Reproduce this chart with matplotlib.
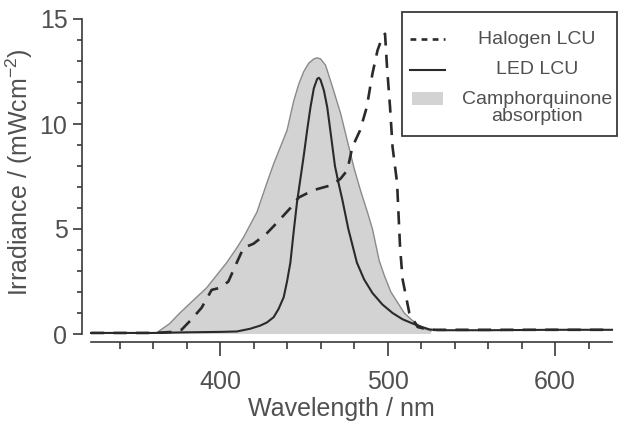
import matplotlib
matplotlib.use('Agg')
import matplotlib.pyplot as plt
from matplotlib.patches import Rectangle
from matplotlib.lines import Line2D

# ---------------- data ----------------
cq_wl = [362, 370, 376, 384, 392, 398, 404, 410, 414, 418, 422, 428, 432, 436,
         440, 444, 447, 450, 453, 456, 458, 460, 463, 467, 472, 476, 480, 484,
         488, 491, 495, 498, 502, 506, 510, 514, 518, 522, 526]
cq_val = [0.05, 0.5, 1.0, 1.6, 2.2, 2.8, 3.4, 4.1, 4.6, 5.2, 5.8, 7.2, 8.1, 8.9,
          9.7, 11.1, 11.9, 12.5, 12.9, 13.1, 13.15, 13.1, 12.8, 11.8, 10.5, 9.2, 7.9, 6.8,
          5.8, 5.0, 3.5, 2.8, 2.0, 1.5, 1.0, 0.7, 0.45, 0.25, 0.15]

led_wl = [323, 340, 360, 380, 400, 410, 418, 424, 428, 432, 435, 438, 440, 442,
          444, 446, 448, 450, 452, 454, 456, 458, 459, 460, 462, 464, 466, 468.6,
          471, 473, 476.6, 481.7, 486, 491, 497, 503, 509, 515, 520, 525, 530,
          560, 600, 634]
led_val = [0.05, 0.05, 0.05, 0.08, 0.1, 0.12, 0.25, 0.4, 0.55, 0.8, 1.2, 1.75, 2.5, 3.4,
           4.9, 6.3, 7.4, 8.5, 9.7, 10.8, 11.7, 12.15, 12.2, 12.1, 11.6, 10.8, 9.6, 8.0,
           7.1, 6.4, 5.0, 3.4, 2.6, 1.95, 1.4, 1.0, 0.7, 0.5, 0.35, 0.22, 0.18,
           0.18, 0.2, 0.2]

hal_wl = [323, 360, 372, 377, 383, 389, 395, 400, 405, 410, 414, 420, 428, 434,
          442, 447, 452, 458, 467, 472, 476, 479, 483.6, 487.6, 491, 494, 496.7,
          498.5, 499.7, 501.5, 503, 505.7, 506.5, 507.5, 509, 513, 518, 525, 540,
          580, 634]
hal_val = [0.05, 0.05, 0.1, 0.2, 0.7, 1.25, 2.1, 2.2, 2.5, 3.4, 4.1, 4.3, 4.8, 5.3,
           6.0, 6.5, 6.7, 6.9, 7.1, 7.4, 7.8, 8.9, 9.7, 10.8, 12.4, 13.5, 14.1,
           14.3, 12.7, 10.8, 8.9, 7.2, 5.8, 4.1, 2.6, 1.0, 0.33, 0.2, 0.2,
           0.2, 0.2]

x_major = [400, 500, 600]
x_minor = list(range(340, 640, 20))
y_major = [0, 5, 10, 15]
y_minor = list(range(0, 16))

legend_labels = ["Halogen LCU", "LED LCU", "Camphorquinone\nabsorption"]

# ---------------- style ----------------
plt.rcParams['font.family'] = ['Liberation Sans', 'DejaVu Sans']
plt.rcParams['mathtext.fontset'] = 'custom'
plt.rcParams['mathtext.rm'] = 'Liberation Sans'
plt.rcParams['mathtext.it'] = 'Liberation Sans'

line_col = '#2a2a2a'
text_col = '#505050'
axis_col = '#3a3a3a'
fill_col = '#d3d3d3'
edge_col = '#8a8a8a'

W, H = 618, 424
fig = plt.figure(figsize=(W / 100, H / 100), dpi=100)
fig.patch.set_facecolor('white')

ax = fig.add_axes([82 / W, (H - 334) / H, 530 / W, 315 / H])
ax.set_xlim(317.6, 634)
ax.set_ylim(0, 15)

ax.fill_between(cq_wl, cq_val, 0, facecolor=fill_col, edgecolor='none', zorder=1)
ax.plot(cq_wl, cq_val, color=edge_col, lw=1.0, zorder=2)
ax.plot(led_wl, led_val, color=line_col, lw=1.5, zorder=3, clip_on=False)
ax.plot(hal_wl, hal_val, color=line_col, lw=1.9, dashes=(5, 3.5), zorder=4, clip_on=False)

for s in ['top', 'right']:
    ax.spines[s].set_visible(False)
ax.spines['left'].set_bounds(0, 15)
ax.spines['bottom'].set_bounds(323, 634)
ax.spines['bottom'].set_position(('outward', 6))
for s in ['left', 'bottom']:
    ax.spines[s].set_color(axis_col)
    ax.spines[s].set_linewidth(1.2)

ax.set_xticks(x_major)
ax.set_xticks(x_minor, minor=True)
ax.set_yticks(y_major)
ax.set_yticks(y_minor, minor=True)
ax.tick_params(axis='x', which='major', direction='out', length=10, width=1.2,
               color=axis_col, labelsize=18, labelcolor=text_col, pad=10)
ax.tick_params(axis='x', which='minor', direction='out', length=5, width=1.2, color=axis_col)
ax.tick_params(axis='y', which='major', direction='out', length=6.5, width=1.2,
               color=axis_col, labelsize=18, labelcolor=text_col, pad=4)
ax.tick_params(axis='y', which='minor', direction='out', length=3.6, width=1.2, color=axis_col)

ax.set_xlabel('Wavelength / nm', fontsize=18, color=text_col)
ax.set_ylabel('Irradiance / (mWcm$^{-2}$)', fontsize=18, color=text_col)
ax.xaxis.set_label_coords(0.4887, -0.20)
ax.yaxis.set_label_coords(-0.088, 0.514)

# ---------------- legend box (drawn in figure pixels) ----------------
def fx(px):
    return px / W

def fy(py):
    return (H - py) / H

fig.add_artist(Rectangle((fx(402), fy(136)), fx(617) - fx(402), fy(12) - fy(136),
                         transform=fig.transFigure, facecolor='white',
                         edgecolor=axis_col, lw=1.3, zorder=10))
fig.add_artist(Line2D([fx(410), fx(445)], [fy(39), fy(39)], transform=fig.transFigure,
                      color=line_col, lw=1.9, dashes=(2.2, 2.0), zorder=11))
fig.add_artist(Line2D([fx(410), fx(445)], [fy(70), fy(70)], transform=fig.transFigure,
                      color=line_col, lw=1.5, zorder=11))
fig.add_artist(Rectangle((fx(412), fy(105)), fx(443) - fx(412), fy(92) - fy(105),
                         transform=fig.transFigure, facecolor=fill_col,
                         edgecolor='none', zorder=11))
fig.text(fx(537), fy(40), legend_labels[0], fontsize=14, color=text_col,
         ha='center', va='center', zorder=12)
fig.text(fx(537), fy(70), legend_labels[1], fontsize=14, color=text_col,
         ha='center', va='center', zorder=12)
fig.text(fx(537), fy(108), legend_labels[2], fontsize=14, color=text_col,
         ha='center', va='center', linespacing=1.0, multialignment='center', zorder=12)

fig.savefig('out.png', dpi=100)
